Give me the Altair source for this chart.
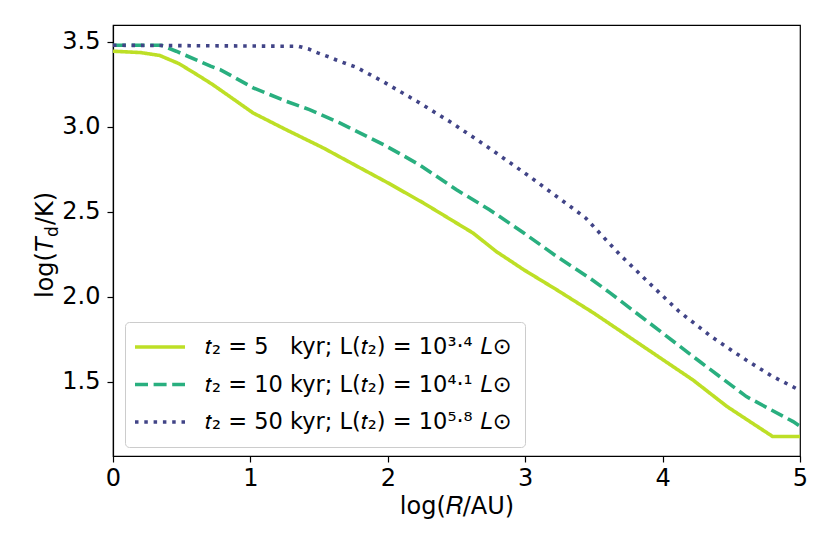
import altair as alt
import pandas as pd

# ---- data ----
x_t5 = [0.0, 0.20, 0.34, 0.48, 0.61, 0.72, 0.83, 1.02, 1.26, 1.53, 1.80, 2.00,
        2.26, 2.62, 2.79, 2.99, 3.23, 3.50, 3.86, 4.22, 4.47, 4.80, 5.0]
y_t5 = [3.443, 3.435, 3.418, 3.37, 3.306, 3.25, 3.188, 3.08, 2.982, 2.875,
        2.757, 2.67, 2.551, 2.375, 2.266, 2.159, 2.041, 1.904, 1.708, 1.512,
        1.355, 1.18, 1.18]

x_t10 = [0.0, 0.35, 0.46, 0.71, 0.78, 1.02, 1.26, 1.43, 1.65, 1.97, 2.23, 2.50,
         2.74, 2.99, 3.23, 3.47, 3.62, 4.27, 4.61, 4.95, 5.0]
y_t10 = [3.478, 3.478, 3.443, 3.355, 3.335, 3.228, 3.149, 3.10, 3.022, 2.894,
         2.776, 2.629, 2.512, 2.375, 2.237, 2.11, 2.022, 1.62, 1.414, 1.267, 1.24]

x_t50 = [0.0, 1.35, 1.42, 1.49, 1.57, 1.63, 1.70, 1.77, 1.96, 2.22, 2.47, 2.72,
         3.02, 3.38, 3.44, 3.69, 3.91, 4.12, 4.36, 4.60, 4.79, 5.0]
y_t50 = [3.478, 3.472, 3.457, 3.433, 3.41, 3.39, 3.369, 3.349, 3.267, 3.145,
         3.02, 2.884, 2.714, 2.50, 2.463, 2.247, 2.075, 1.914, 1.763, 1.633,
         1.537, 1.45]

labels = [
    "𝑡₂ = 5\u2007\u00a0kyr; L(𝑡₂) = 10³·⁴ 𝐿⊙",
    "𝑡₂ = 10 kyr; L(𝑡₂) = 10⁴·¹ 𝐿⊙",
    "𝑡₂ = 50 kyr; L(𝑡₂) = 10⁵·⁸ 𝐿⊙",
]
colors = ["#bddf26", "#29af7f", "#414487"]
dashes = [[1, 0], [13, 5.6], [3.5, 5.8]]

x_ticks = [0, 1, 2, 3, 4, 5]
y_ticks = [1.5, 2.0, 2.5, 3.0, 3.5]

x_title = "log(𝑅/AU)"
y_title_parts = ["log(", "T", "d", "/K)"]

rows = []
for lab, xs, ys in zip(labels, [x_t5, x_t10, x_t50], [y_t5, y_t10, y_t50]):
    for i, (a, b) in enumerate(zip(xs, ys)):
        rows.append({"series": lab, "x": a, "y": b, "order": i})
df = pd.DataFrame(rows)

FONT = "DejaVu Sans"
FS = 24

lines = alt.Chart(df).mark_line(strokeWidth=3.6, clip=True, strokeCap="butt").encode(
    x=alt.X("x:Q", title=x_title,
            scale=alt.Scale(domain=[0, 5], nice=False, zero=False),
            axis=alt.Axis(values=x_ticks, format="d")),
    y=alt.Y("y:Q", title=None,
            scale=alt.Scale(domain=[1.065, 3.597], nice=False, zero=False),
            axis=alt.Axis(values=y_ticks, format=".1f")),
    color=alt.Color("series:N", sort=labels,
                    scale=alt.Scale(domain=labels, range=colors),
                    legend=alt.Legend(title=None)),
    strokeDash=alt.StrokeDash("series:N", sort=labels,
                              scale=alt.Scale(domain=labels, range=dashes),
                              legend=alt.Legend(title=None)),
    order="order:Q",
)

# y-axis title built from pieces (italic T, subscript d)
def title_piece(txt, y, x=-60, size=FS, style="normal"):
    return alt.Chart(pd.DataFrame({"t": [txt]})).mark_text(
        angle=270, align="left", baseline="alphabetic", font=FONT,
        fontSize=size, fontStyle=style, color="black",
    ).encode(text="t:N", x=alt.value(x), y=alt.value(y))

yt = [
    title_piece(y_title_parts[0], 273),
    title_piece(y_title_parts[1], 227, style="italic"),
    title_piece(y_title_parts[2], 212, x=-55, size=17),
    title_piece(y_title_parts[3], 200),
]

chart = alt.layer(lines, *yt).properties(
    width=687, height=431,
    autosize=alt.AutoSizeParams(type="none"),
    padding={"left": 105, "top": 17, "right": 22, "bottom": 90},
).configure_view(
    stroke="black", strokeWidth=1.2
).configure_axis(
    grid=False, domainColor="black", domainWidth=1.2,
    tickColor="black", tickWidth=1.2, tickSize=6, labelFlush=False,
    labelFont=FONT, labelFontSize=FS, labelColor="black",
    titleFont=FONT, titleFontSize=FS, titleFontWeight="normal", titleColor="black",
).configure_axisX(labelPadding=4, titlePadding=4
).configure_axisY(labelPadding=7
).configure_legend(
    orient="none", legendX=12, legendY=297,
    fillColor="white", strokeColor="#cccccc", cornerRadius=4, padding=13,
    labelFont=FONT, labelFontSize=22.5, labelColor="black", labelOffset=33,
    labelLimit=0, symbolOffset=10,
    symbolType="M-2.5,0L2.5,0", symbolSize=400, symbolStrokeWidth=3.6,
    rowPadding=13.5,
)

chart.save("out.html", embed_options={"renderer": "svg", "actions": False})
